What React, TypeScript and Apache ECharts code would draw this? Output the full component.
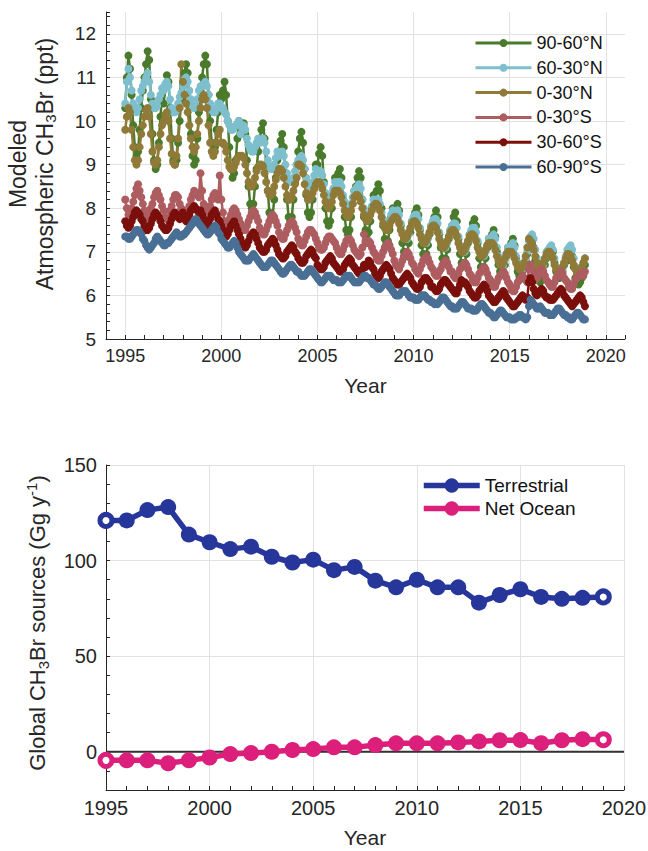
import React, { useEffect, useRef } from 'react';
import * as echarts from 'echarts';

// ---------- Top panel: modeled atmospheric CH3Br (ppt), monthly Jan 1995 – Dec 2018 ----------
const monthlyStartYear = 1995;
const regionNames = ['90-60°N', '60-30°N', '0-30°N', '0-30°S', '30-60°S', '60-90°S'];

const lat90to60N = [
  10.3, 11.0, 11.5, 11.2, 10.6, 9.9, 9.4, 9.2, 9.3, 9.8, 10.3, 10.7,
  11.0, 11.3, 11.6, 11.4, 10.5, 9.7, 9.1, 8.9, 9.0, 9.5, 10.1, 10.6,
  10.4, 10.8, 11.05, 10.9, 10.3, 9.6, 9.1, 9.0, 9.1, 9.5, 10.0, 10.5,
  10.8, 11.1, 11.3, 11.1, 10.4, 9.7, 9.2, 9.0, 9.1, 9.6, 10.2, 10.7,
  11.0, 11.3, 11.5, 11.3, 10.6, 10.0, 9.5, 9.3, 9.4, 9.8, 10.2, 10.6,
  10.5, 10.7, 10.9, 10.6, 10.0, 9.4, 8.9, 8.7, 8.8, 9.1, 9.6, 10.0,
  9.7, 9.9, 9.95, 9.7, 9.1, 8.5, 8.1, 8.0, 8.1, 8.5, 8.9, 9.3,
  9.6, 9.8, 9.95, 9.6, 9.0, 8.4, 7.9, 7.75, 7.8, 8.2, 8.7, 9.1,
  9.3, 9.55, 9.7, 9.4, 8.8, 8.2, 7.8, 7.7, 7.8, 8.2, 8.6, 9.0,
  9.3, 9.6, 9.75, 9.5, 8.9, 8.3, 7.9, 7.8, 7.9, 8.2, 8.6, 9.0,
  9.0, 9.25, 9.4, 9.2, 8.6, 8.0, 7.7, 7.6, 7.7, 8.0, 8.4, 8.7,
  8.6, 8.8, 8.9, 8.7, 8.2, 7.8, 7.5, 7.4, 7.5, 7.8, 8.1, 8.4,
  8.5, 8.7, 8.85, 8.7, 8.2, 7.8, 7.5, 7.4, 7.45, 7.7, 8.0, 8.3,
  8.2, 8.4, 8.55, 8.4, 8.0, 7.6, 7.3, 7.2, 7.25, 7.5, 7.8, 8.0,
  7.8, 8.0, 8.1, 7.95, 7.6, 7.2, 7.0, 6.9, 6.95, 7.2, 7.45, 7.7,
  7.7, 7.9, 8.0, 7.85, 7.5, 7.15, 6.95, 6.9, 6.95, 7.15, 7.4, 7.6,
  7.6, 7.8, 7.95, 7.8, 7.4, 7.1, 6.85, 6.8, 6.85, 7.05, 7.3, 7.5,
  7.6, 7.8, 7.9, 7.7, 7.3, 6.95, 6.75, 6.7, 6.75, 6.95, 7.2, 7.4,
  7.45, 7.65, 7.75, 7.6, 7.2, 6.85, 6.65, 6.6, 6.65, 6.85, 7.1, 7.3,
  7.2, 7.4, 7.5, 7.35, 7.0, 6.7, 6.55, 6.5, 6.55, 6.7, 6.9, 7.1,
  7.0, 7.2, 7.3, 7.15, 6.85, 6.55, 6.45, 6.4, 6.45, 6.6, 6.8, 6.95,
  7.05, 7.15, 7.25, 7.1, 6.8, 6.5, 6.35, 6.3, 6.35, 6.5, 6.7, 6.85,
  6.9, 7.0, 7.1, 7.0, 6.75, 6.55, 6.45, 6.4, 6.45, 6.55, 6.7, 6.85,
  6.8, 6.9, 7.0, 6.9, 6.65, 6.4, 6.3, 6.25, 6.3, 6.4, 6.55, 6.7,
];

const lat60to30N = [
  10.4, 10.9, 11.2, 11.0, 10.7, 10.4, 10.25, 10.2, 10.3, 10.5, 10.7, 10.8,
  10.9, 11.0, 11.1, 10.9, 10.6, 10.4, 10.3, 10.3, 10.35, 10.5, 10.6, 10.75,
  10.7, 10.85, 10.9, 10.8, 10.5, 10.3, 10.2, 10.2, 10.25, 10.4, 10.55, 10.65,
  10.8, 10.95, 11.0, 10.9, 10.7, 10.5, 10.35, 10.3, 10.35, 10.5, 10.7, 10.8,
  10.8, 10.85, 10.9, 10.8, 10.6, 10.4, 10.25, 10.2, 10.2, 10.3, 10.4, 10.4,
  10.3, 10.3, 10.2, 10.15, 10.0, 9.9, 9.8, 9.8, 9.85, 9.9, 9.95, 10.0,
  9.7, 9.85, 9.9, 9.8, 9.6, 9.45, 9.35, 9.3, 9.3, 9.4, 9.5, 9.6,
  9.5, 9.55, 9.6, 9.5, 9.3, 9.1, 8.95, 8.9, 8.9, 9.0, 9.15, 9.3,
  9.2, 9.25, 9.3, 9.2, 9.0, 8.8, 8.65, 8.6, 8.6, 8.7, 8.85, 9.0,
  9.1, 9.15, 9.2, 9.1, 8.9, 8.7, 8.55, 8.5, 8.5, 8.6, 8.75, 8.9,
  8.8, 8.85, 8.85, 8.75, 8.55, 8.35, 8.25, 8.2, 8.2, 8.3, 8.45, 8.6,
  8.55, 8.6, 8.6, 8.5, 8.3, 8.15, 8.05, 8.0, 8.0, 8.1, 8.25, 8.4,
  8.45, 8.5, 8.55, 8.45, 8.2, 8.0, 7.85, 7.8, 7.8, 7.9, 8.05, 8.2,
  8.15, 8.2, 8.2, 8.1, 7.9, 7.75, 7.65, 7.6, 7.6, 7.7, 7.85, 7.95,
  7.85, 7.9, 7.95, 7.85, 7.65, 7.45, 7.35, 7.3, 7.3, 7.4, 7.55, 7.7,
  7.8, 7.85, 7.85, 7.75, 7.55, 7.35, 7.25, 7.2, 7.2, 7.3, 7.45, 7.6,
  7.7, 7.75, 7.75, 7.65, 7.45, 7.25, 7.15, 7.1, 7.1, 7.2, 7.35, 7.5,
  7.6, 7.65, 7.65, 7.55, 7.35, 7.15, 7.05, 7.0, 7.0, 7.1, 7.25, 7.4,
  7.5, 7.55, 7.55, 7.45, 7.25, 7.05, 6.95, 6.9, 6.9, 7.0, 7.15, 7.3,
  7.3, 7.35, 7.4, 7.3, 7.1, 6.9, 6.75, 6.7, 6.7, 6.8, 6.95, 7.1,
  7.1, 7.15, 7.2, 7.1, 6.9, 6.75, 6.65, 6.6, 6.6, 6.7, 6.85, 7.0,
  7.25, 7.35, 7.4, 7.3, 7.05, 6.85, 6.7, 6.6, 6.6, 6.7, 6.85, 7.0,
  7.05, 7.1, 7.15, 7.05, 6.85, 6.65, 6.55, 6.5, 6.5, 6.6, 6.75, 6.9,
  7.05, 7.1, 7.15, 7.05, 6.85, 6.65, 6.55, 6.5, 6.5, 6.6, 6.75, 6.85,
];

const lat0to30N = [
  9.8, 10.1, 10.3, 10.2, 9.8, 9.4, 9.1, 9.0, 9.1, 9.4, 9.7, 9.9,
  10.1, 10.25, 10.3, 10.1, 9.7, 9.3, 9.05, 9.0, 9.1, 9.4, 9.7, 9.9,
  10.0, 10.15, 10.2, 10.0, 9.6, 9.25, 9.05, 9.0, 9.2, 9.6, 10.3, 11.3,
  10.9, 10.6, 10.4, 10.2, 9.9, 9.6, 9.4, 9.3, 9.4, 9.7, 10.0, 10.3,
  10.5, 10.6, 10.5, 10.3, 9.9, 9.5, 9.3, 9.2, 9.3, 9.5, 9.7, 9.8,
  9.5, 9.5, 9.45, 9.3, 9.1, 8.95, 8.9, 8.9, 8.95, 9.05, 9.15, 9.2,
  9.2, 9.2, 9.15, 9.0, 8.8, 8.6, 8.5, 8.5, 8.55, 8.7, 8.85, 8.95,
  9.0, 9.0, 8.95, 8.8, 8.6, 8.4, 8.3, 8.3, 8.35, 8.5, 8.65, 8.8,
  8.9, 8.9, 8.85, 8.7, 8.5, 8.3, 8.2, 8.2, 8.25, 8.4, 8.55, 8.7,
  9.0, 9.0, 8.95, 8.8, 8.55, 8.35, 8.2, 8.2, 8.25, 8.35, 8.45, 8.55,
  8.6, 8.6, 8.55, 8.45, 8.3, 8.15, 8.05, 8.0, 8.05, 8.15, 8.3, 8.4,
  8.4, 8.4, 8.35, 8.25, 8.1, 7.95, 7.85, 7.8, 7.85, 7.95, 8.1, 8.25,
  8.3, 8.3, 8.25, 8.15, 8.0, 7.85, 7.75, 7.7, 7.75, 7.85, 7.95, 8.05,
  8.1, 8.1, 8.05, 7.95, 7.8, 7.65, 7.55, 7.5, 7.5, 7.6, 7.7, 7.75,
  7.8, 7.8, 7.75, 7.65, 7.5, 7.4, 7.3, 7.3, 7.35, 7.45, 7.55, 7.65,
  7.7, 7.7, 7.65, 7.55, 7.4, 7.3, 7.2, 7.2, 7.25, 7.35, 7.45, 7.55,
  7.6, 7.6, 7.55, 7.45, 7.3, 7.2, 7.1, 7.1, 7.15, 7.25, 7.35, 7.45,
  7.5, 7.5, 7.45, 7.35, 7.2, 7.1, 7.0, 7.0, 7.05, 7.15, 7.25, 7.35,
  7.4, 7.4, 7.35, 7.25, 7.1, 7.0, 6.9, 6.9, 6.95, 7.05, 7.15, 7.2,
  7.2, 7.2, 7.15, 7.05, 6.9, 6.8, 6.7, 6.7, 6.75, 6.85, 6.95, 7.0,
  7.0, 7.0, 6.95, 6.85, 6.75, 6.65, 6.6, 6.6, 6.65, 6.75, 6.9, 7.1,
  7.3, 7.25, 7.2, 7.05, 6.9, 6.75, 6.65, 6.6, 6.65, 6.75, 6.85, 6.95,
  7.0, 7.0, 6.95, 6.85, 6.7, 6.6, 6.5, 6.5, 6.55, 6.65, 6.75, 6.85,
  6.95, 6.95, 6.9, 6.8, 6.7, 6.6, 6.5, 6.5, 6.55, 6.65, 6.75, 6.85,
];

const lat0to30S = [
  8.2, 8.0, 7.85, 7.9, 8.0, 8.15, 8.3, 8.45, 8.55, 8.4, 8.25, 8.1,
  7.95, 7.85, 7.8, 7.85, 8.0, 8.1, 8.25, 8.35, 8.4, 8.3, 8.2, 8.05,
  7.95, 7.8, 7.75, 7.8, 7.95, 8.05, 8.2, 8.3, 8.3, 8.25, 8.1, 8.0,
  7.95, 7.9, 7.9, 7.95, 8.05, 8.2, 8.3, 8.4, 8.35, 8.3, 8.25, 8.8,
  8.4, 8.1, 7.95, 7.85, 7.9, 8.05, 8.2, 8.3, 8.35, 8.3, 8.2, 8.75,
  8.2, 7.9, 7.7, 7.6, 7.65, 7.75, 7.85, 7.95, 8.0, 7.95, 7.85, 7.75,
  7.65, 7.55, 7.5, 7.5, 7.6, 7.7, 7.8, 7.9, 7.95, 7.9, 7.8, 7.7,
  7.55, 7.45, 7.4, 7.4, 7.5, 7.6, 7.7, 7.8, 7.85, 7.8, 7.7, 7.6,
  7.45, 7.35, 7.3, 7.3, 7.4, 7.5, 7.6, 7.65, 7.7, 7.65, 7.55, 7.45,
  7.3, 7.2, 7.15, 7.15, 7.25, 7.35, 7.45, 7.5, 7.5, 7.45, 7.4, 7.3,
  7.2, 7.1, 7.05, 7.05, 7.1, 7.2, 7.3, 7.35, 7.35, 7.3, 7.25, 7.2,
  7.1, 7.0, 6.95, 6.95, 7.05, 7.15, 7.25, 7.3, 7.3, 7.25, 7.15, 7.05,
  7.0, 6.95, 6.9, 6.95, 7.1, 7.4, 7.25, 7.2, 7.25, 7.2, 7.1, 7.0,
  6.95, 6.85, 6.8, 6.8, 6.9, 7.0, 7.1, 7.15, 7.2, 7.15, 7.05, 6.95,
  6.8, 6.7, 6.65, 6.6, 6.7, 6.8, 6.9, 6.95, 7.0, 6.95, 6.85, 6.75,
  6.7, 6.6, 6.55, 6.5, 6.6, 6.7, 6.8, 6.85, 6.9, 6.85, 6.75, 6.65,
  6.6, 6.5, 6.45, 6.45, 6.55, 6.6, 6.7, 6.75, 6.8, 6.75, 6.65, 6.55,
  6.55, 6.45, 6.4, 6.4, 6.5, 6.6, 6.65, 6.7, 6.75, 6.7, 6.6, 6.5,
  6.45, 6.35, 6.3, 6.3, 6.4, 6.5, 6.55, 6.6, 6.65, 6.6, 6.5, 6.4,
  6.35, 6.25, 6.2, 6.2, 6.3, 6.4, 6.45, 6.5, 6.55, 6.5, 6.4, 6.3,
  6.25, 6.15, 6.1, 6.1, 6.2, 6.3, 6.35, 6.4, 6.45, 6.4, 6.35, 6.3,
  6.6, 6.7, 6.6, 6.45, 6.35, 6.4, 6.5, 6.55, 6.6, 6.55, 6.45, 6.35,
  6.3, 6.25, 6.2, 6.2, 6.3, 6.4, 6.45, 6.5, 6.55, 6.5, 6.4, 6.35,
  6.3, 6.2, 6.15, 6.15, 6.25, 6.35, 6.4, 6.45, 6.5, 6.5, 6.45, 6.55,
];

const lat30to60S = [
  7.7, 7.6, 7.55, 7.6, 7.7, 7.8, 7.9, 7.95, 7.9, 7.85, 7.75, 7.7,
  7.6, 7.5, 7.5, 7.55, 7.65, 7.75, 7.85, 7.9, 7.85, 7.8, 7.7, 7.6,
  7.55, 7.5, 7.5, 7.55, 7.65, 7.75, 7.85, 7.9, 7.85, 7.8, 7.75, 7.8,
  7.9, 7.8, 7.7, 7.75, 7.85, 7.95, 8.0, 8.05, 8.0, 7.95, 7.9, 7.95,
  7.85, 7.75, 7.65, 7.6, 7.65, 7.75, 7.85, 7.9, 7.95, 7.85, 7.75, 7.7,
  7.6, 7.5, 7.4, 7.35, 7.4, 7.5, 7.6, 7.65, 7.7, 7.6, 7.5, 7.4,
  7.3, 7.2, 7.15, 7.1, 7.15, 7.25, 7.35, 7.4, 7.45, 7.4, 7.3, 7.2,
  7.1, 7.05, 7.0, 7.0, 7.05, 7.15, 7.2, 7.25, 7.3, 7.25, 7.15, 7.05,
  6.95, 6.9, 6.85, 6.85, 6.9, 7.0, 7.05, 7.1, 7.15, 7.1, 7.0, 6.95,
  6.85, 6.8, 6.75, 6.75, 6.8, 6.9, 6.95, 7.0, 7.05, 7.0, 6.9, 6.85,
  6.7, 6.65, 6.6, 6.6, 6.65, 6.75, 6.8, 6.85, 6.9, 6.85, 6.75, 6.7,
  6.65, 6.6, 6.55, 6.55, 6.6, 6.7, 6.75, 6.8, 6.85, 6.8, 6.7, 6.65,
  6.6, 6.55, 6.5, 6.5, 6.6, 6.7, 6.65, 6.7, 6.8, 6.75, 6.65, 6.6,
  6.5, 6.45, 6.4, 6.45, 6.55, 6.6, 6.65, 6.7, 6.65, 6.6, 6.5, 6.4,
  6.35, 6.3, 6.25, 6.25, 6.3, 6.35, 6.4, 6.45, 6.5, 6.45, 6.4, 6.3,
  6.25, 6.2, 6.15, 6.15, 6.2, 6.3, 6.35, 6.4, 6.4, 6.35, 6.3, 6.2,
  6.2, 6.15, 6.1, 6.1, 6.15, 6.25, 6.3, 6.35, 6.35, 6.3, 6.25, 6.2,
  6.15, 6.1, 6.05, 6.05, 6.15, 6.25, 6.35, 6.3, 6.3, 6.25, 6.2, 6.1,
  6.05, 6.0, 5.95, 5.95, 6.0, 6.1, 6.15, 6.2, 6.25, 6.2, 6.1, 6.0,
  5.95, 5.9, 5.85, 5.85, 5.9, 5.95, 6.0, 6.05, 6.1, 6.05, 5.95, 5.9,
  5.85, 5.8, 5.75, 5.75, 5.8, 5.85, 5.9, 5.95, 6.0, 5.95, 5.9, 5.95,
  6.3, 6.4, 6.3, 6.15, 6.05, 6.0, 6.05, 6.1, 6.15, 6.1, 6.0, 5.95,
  5.95, 5.9, 5.9, 5.9, 5.95, 6.0, 6.05, 6.1, 6.15, 6.1, 6.0, 5.95,
  5.9, 5.85, 5.8, 5.75, 5.8, 5.85, 5.9, 5.95, 6.0, 5.95, 5.85, 5.75,
];

const lat60to90S = [
  7.35, 7.35, 7.3, 7.3, 7.35, 7.4, 7.45, 7.5, 7.5, 7.45, 7.4, 7.3,
  7.25, 7.15, 7.1, 7.05, 7.1, 7.15, 7.2, 7.3, 7.35, 7.3, 7.25, 7.2,
  7.15, 7.15, 7.2, 7.2, 7.25, 7.3, 7.35, 7.4, 7.45, 7.4, 7.35, 7.35,
  7.4, 7.4, 7.45, 7.5, 7.55, 7.6, 7.65, 7.7, 7.75, 7.7, 7.65, 7.6,
  7.55, 7.5, 7.45, 7.4, 7.4, 7.45, 7.5, 7.55, 7.6, 7.55, 7.45, 7.4,
  7.3, 7.25, 7.2, 7.15, 7.1, 7.1, 7.15, 7.2, 7.25, 7.2, 7.1, 7.0,
  6.95, 6.9, 6.85, 6.8, 6.8, 6.8, 6.85, 6.9, 6.95, 6.9, 6.85, 6.8,
  6.75, 6.7, 6.65, 6.65, 6.65, 6.7, 6.75, 6.8, 6.8, 6.75, 6.7, 6.65,
  6.6, 6.55, 6.5, 6.5, 6.55, 6.6, 6.65, 6.7, 6.7, 6.65, 6.6, 6.55,
  6.55, 6.5, 6.45, 6.45, 6.45, 6.5, 6.55, 6.6, 6.6, 6.55, 6.5, 6.45,
  6.4, 6.35, 6.3, 6.3, 6.35, 6.4, 6.45, 6.45, 6.45, 6.4, 6.35, 6.35,
  6.35, 6.3, 6.3, 6.3, 6.35, 6.4, 6.45, 6.45, 6.45, 6.4, 6.35, 6.3,
  6.3, 6.3, 6.3, 6.35, 6.4, 6.45, 6.45, 6.4, 6.4, 6.35, 6.3, 6.25,
  6.25, 6.2, 6.15, 6.15, 6.2, 6.25, 6.3, 6.3, 6.25, 6.2, 6.15, 6.1,
  6.05, 6.0, 6.0, 6.0, 6.05, 6.1, 6.1, 6.1, 6.05, 6.0, 5.95, 5.95,
  5.95, 5.9, 5.9, 5.9, 5.95, 6.0, 6.0, 6.0, 5.95, 5.9, 5.9, 5.85,
  5.85, 5.8, 5.8, 5.8, 5.85, 5.9, 5.95, 5.95, 5.9, 5.85, 5.8, 5.75,
  5.75, 5.7, 5.7, 5.7, 5.75, 5.8, 5.85, 5.85, 5.8, 5.75, 5.7, 5.7,
  5.7, 5.65, 5.65, 5.65, 5.7, 5.75, 5.8, 5.8, 5.75, 5.7, 5.65, 5.6,
  5.6, 5.55, 5.5, 5.5, 5.55, 5.6, 5.65, 5.65, 5.6, 5.55, 5.5, 5.5,
  5.5, 5.45, 5.45, 5.45, 5.5, 5.5, 5.55, 5.55, 5.5, 5.5, 5.45, 5.5,
  5.75, 5.9, 5.85, 5.8, 5.75, 5.7, 5.7, 5.75, 5.7, 5.65, 5.6, 5.6,
  5.6, 5.55, 5.55, 5.55, 5.6, 5.65, 5.7, 5.7, 5.65, 5.6, 5.55, 5.55,
  5.5, 5.5, 5.45, 5.45, 5.5, 5.55, 5.6, 5.6, 5.55, 5.5, 5.45, 5.45,
];

const regionValues = [lat90to60N, lat60to30N, lat0to30N, lat0to30S, lat30to60S, lat60to90S];

// ---------- Bottom panel: global CH3Br sources (Gg/yr), annual ----------
const sourceYears = [
  1995, 1996, 1997, 1998, 1999, 2000, 2001, 2002, 2003, 2004, 2005, 2006, 2007,
  2008, 2009, 2010, 2011, 2012, 2013, 2014, 2015, 2016, 2017, 2018, 2019,
];
const terrestrial = [
  121, 121, 126.4, 128, 113.6, 109.6, 106, 107.3, 102, 99, 100.5, 95, 96.7,
  89.5, 86, 90, 86, 86, 78, 82, 85, 81, 80, 80.5, 81,
];
const netOcean = [
  -4.5, -4.5, -4.5, -6, -4.5, -3, -1.2, -0.7, 0, 0.9, 1.4, 2.3, 2.3,
  3.5, 4.4, 4.4, 4.4, 4.9, 5.4, 6, 6.1, 4.5, 6, 6.6, 6.3,
];
const sourceNames = ['Terrestrial', 'Net Ocean'];

// ---------- styles ----------
const regionColors = ['#4A7A2B', '#7DBFCD', '#8F7A38', '#AD5C60', '#7A0F0B', '#4A6F95'];
const sourceColors = ['#26369A', '#DC1F7B'];
const FONT = '"Liberation Sans", Arial, Helvetica, sans-serif';
const AXIS = '#262626';
const GRID = '#e2e2e2';
const T = 'rgba(0,0,0,0)';

export default function App() {
  const ref = useRef<HTMLDivElement>(null);

  useEffect(() => {
    if (!ref.current) return;
    const chart = echarts.init(ref.current, undefined, { renderer: 'svg' });

    const isInt = (v: number) => Math.abs(v - Math.round(v)) < 1e-6;

    const topSeries = regionNames.map((name, k) => ({
      type: 'line',
      name,
      xAxisIndex: 0,
      yAxisIndex: 0,
      data: regionValues[k].map((v, i) => [monthlyStartYear + i / 12, v]),
      symbol: 'circle',
      symbolSize: 8,
      showAllSymbol: true,
      lineStyle: { width: 2.5, color: regionColors[k] },
      itemStyle: { color: regionColors[k] },
      emphasis: { disabled: true },
      silent: true,
    }));

    const endPoint = (x: number, y: number, c: string) => ({
      value: [x, y],
      symbolSize: 12,
      itemStyle: { color: '#ffffff', borderColor: c, borderWidth: 5 },
    });

    const bottomSeries = [terrestrial, netOcean].map((vals, k) => ({
      type: 'line',
      name: sourceNames[k],
      xAxisIndex: 1,
      yAxisIndex: 1,
      data: vals.map((v, i) =>
        i === 0 || i === vals.length - 1
          ? endPoint(sourceYears[i], v, sourceColors[k])
          : [sourceYears[i], v]
      ),
      symbol: 'circle',
      symbolSize: 16,
      lineStyle: { width: 5.5, color: sourceColors[k] },
      itemStyle: { color: sourceColors[k] },
      emphasis: { disabled: true },
      silent: true,
      z: 3,
    }));

    const zeroLine = {
      type: 'line',
      name: 'zero',
      xAxisIndex: 1,
      yAxisIndex: 1,
      data: [
        [sourceYears[0], 0],
        [2020, 0],
      ],
      symbol: 'none',
      lineStyle: { width: 2, color: '#333333' },
      silent: true,
      z: 1,
    };

    const axisCommon = {
      axisLine: { show: true, onZero: false, lineStyle: { color: AXIS, width: 1 } },
      axisTick: { show: true, inside: true, length: 4, lineStyle: { color: AXIS, width: 1 } },
      nameTextStyle: { fontSize: 21, color: AXIS, fontFamily: FONT },
    };
    const lbl = (size: number, margin: number, fmt: (v: number) => string) => ({
      fontSize: size,
      color: AXIS,
      fontFamily: FONT,
      margin,
      formatter: fmt,
    });
    const every = (n: number) => (v: number) =>
      isInt(v) && Math.round(v) % n === 0 ? String(Math.round(v)) : '';

    chart.setOption({
      animation: false,
      textStyle: { fontFamily: FONT },
      grid: [
        { left: 106, top: 12, width: 519, height: 327, outerBoundsMode: 'none', containLabel: false },
        { left: 106, top: 465, width: 518, height: 325, outerBoundsMode: 'none', containLabel: false },
      ],
      xAxis: [
        {
          type: 'value',
          gridIndex: 0,
          min: 1994,
          max: 2021,
          interval: 1,
          ...axisCommon,
          axisLabel: lbl(18, 8, every(5)),
          splitLine: { show: true, showMinLine: true, lineStyle: { color: [T, GRID, T, T, T], width: 1 } },
          name: 'Year',
          nameLocation: 'middle',
          nameGap: 36,
        },
        {
          type: 'value',
          gridIndex: 1,
          min: 1995,
          max: 2020,
          interval: 1,
          ...axisCommon,
          axisLabel: lbl(20, 8, every(5)),
          splitLine: { show: true, showMinLine: true, lineStyle: { color: [GRID, T, T, T, T], width: 1 } },
          name: 'Year',
          nameLocation: 'middle',
          nameGap: 37,
        },
      ],
      yAxis: [
        {
          type: 'value',
          gridIndex: 0,
          min: 5,
          max: 12.5,
          interval: 0.2,
          ...axisCommon,
          axisLabel: lbl(19, 10, (v: number) => (isInt(v) ? String(Math.round(v)) : '')),
          splitLine: { show: true, showMinLine: true, lineStyle: { color: [GRID, T, T, T, T], width: 1 } },
        },
        {
          type: 'value',
          gridIndex: 1,
          min: -20,
          max: 150,
          interval: 10,
          ...axisCommon,
          axisLabel: lbl(20, 9, every(50)),
          splitLine: { show: true, showMinLine: true, lineStyle: { color: [T, T, GRID, T, T], width: 1 } },
        },
      ],
      legend: [
        {
          data: regionNames,
          orient: 'vertical',
          left: 474,
          top: 34,
          itemWidth: 56,
          itemHeight: 10,
          itemGap: 6.8,
          padding: 0,
          selectedMode: false,
          lineStyle: { width: 3 },
          textStyle: { fontSize: 18, color: '#111', fontFamily: FONT },
        },
        {
          data: sourceNames,
          orient: 'vertical',
          left: 421,
          top: 476,
          itemWidth: 56,
          itemHeight: 18,
          itemGap: 4,
          padding: 0,
          selectedMode: false,
          lineStyle: { width: 5.5 },
          textStyle: { fontSize: 19, color: '#111', fontFamily: FONT },
        },
      ],
      graphic: [
        {
          type: 'text',
          x: 31,
          y: 164,
          rotation: Math.PI / 2,
          silent: true,
          style: {
            text: 'Modeled\nAtmospheric CH{sub|3}Br (ppt)',
            fill: AXIS,
            font: `23px ${FONT}`,
            lineHeight: 27,
            align: 'center',
            verticalAlign: 'middle',
            rich: {
              sub: { fontSize: 15, lineHeight: 14, verticalAlign: 'bottom', fill: AXIS, fontFamily: FONT },
            },
          },
        },
        {
          type: 'text',
          x: 37,
          y: 623,
          rotation: Math.PI / 2,
          silent: true,
          style: {
            text: 'Global CH{sub|3}Br sources (Gg y{sup|-1})',
            fill: AXIS,
            font: `22px ${FONT}`,
            lineHeight: 27,
            align: 'center',
            verticalAlign: 'middle',
            rich: {
              sub: { fontSize: 15, lineHeight: 14, verticalAlign: 'bottom', fill: AXIS, fontFamily: FONT },
              sup: { fontSize: 15, lineHeight: 14, verticalAlign: 'top', fill: AXIS, fontFamily: FONT },
            },
          },
        },
      ],
      series: [...topSeries, zeroLine, ...bottomSeries],
    });

    return () => chart.dispose();
  }, []);

  return (
    <div
      ref={ref}
      style={{ position: 'absolute', left: 0, top: 0, width: 648, height: 851, background: '#fff' }}
    />
  );
}
